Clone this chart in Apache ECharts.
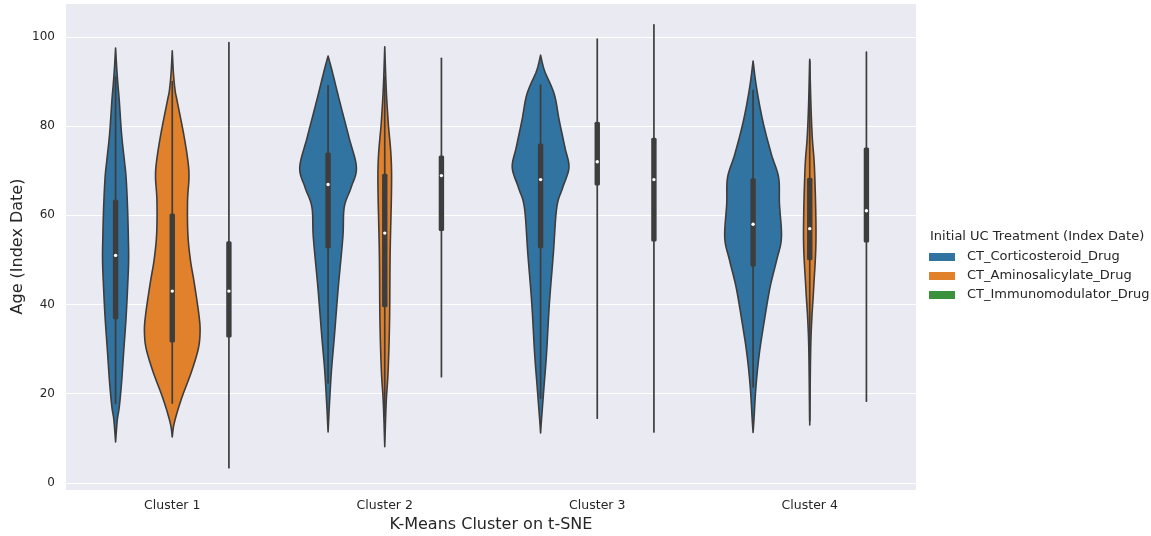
<!DOCTYPE html>
<html>
<head>
<meta charset="utf-8">
<script src="https://cdn.jsdelivr.net/npm/echarts@6/dist/echarts.min.js"></script>
<style>
html,body{margin:0;padding:0;background:#fff;}
#chart{width:1151px;height:536px;}
</style>
</head>
<body>
<div id="chart"></div>
<script>
// ---- data ----
const categories = ['Cluster 1', 'Cluster 2', 'Cluster 3', 'Cluster 4'];
const seriesNames = ['CT_Corticosteroid_Drug', 'CT_Aminosalicylate_Drug', 'CT_Immunomodulator_Drug'];
const legendTitle = 'Initial UC Treatment (Index Date)';

// box stats per cluster: [whiskerLow, Q1, median, Q3, whiskerHigh]
const corticoBox = [
  [17.8, 36.7, 51.0, 63.5, 91.0],
  [22.4, 52.6, 66.9, 74.1, 89.0],
  [19.0, 52.6, 68.0, 76.1, 89.2],
  [21.5, 48.5, 58.0, 68.3, 88.0]
];
const aminoBox = [
  [17.9, 31.5, 43.0, 60.4, 90.0],
  [15.0, 39.4, 56.0, 69.3, 91.0],
  [14.5, 66.7, 72.0, 81.0, 99.5],
  [14.0, 49.9, 57.0, 68.4, 94.5]
];
const immunoBox = [
  [3.4, 32.6, 43.0, 54.2, 98.7],
  [23.8, 56.5, 68.9, 73.4, 95.2],
  [11.4, 54.1, 68.0, 77.4, 102.7],
  [18.3, 53.9, 61.0, 75.2, 96.6]
];

// violin density profiles per cluster: [age, relative width]
const corticoDensity = [
  [[97.5,0],[93,0.04],[89.5,0.08],[85.7,0.13],[78.3,0.21],[72.3,0.31],[68.5,0.37],[62,0.42],[55,0.45],[50,0.46],[44.7,0.43],[37.1,0.37],[29.8,0.29],[22.4,0.21],[17,0.13],[14.1,0.06],[9.2,0]],
  [[95.7,0],[92.4,0.14],[85,0.43],[77.4,0.74],[70.7,1.0],[66.2,0.81],[61.8,0.57],[55,0.52],[43.9,0.36],[32.7,0.22],[25.3,0.12],[17.9,0.05],[11.4,0]],
  [[95.9,0],[92.4,0.14],[87.2,0.48],[81.2,0.66],[75.2,0.86],[70.7,1.0],[66.2,0.78],[61.7,0.57],[51.4,0.45],[40.2,0.31],[29,0.21],[21.5,0.12],[14,0.03],[11.2,0]],
  [[94.6,0],[88.7,0.12],[81.2,0.34],[73.8,0.64],[68.5,0.9],[62.6,0.93],[55,1.0],[49.9,0.83],[43.9,0.6],[36.5,0.4],[29,0.22],[21.5,0.1],[14.1,0.03],[11.3,0]]
];
const aminoDensity = [
  [[96.9,0],[92,0.04],[88,0.1],[85.7,0.17],[78.3,0.4],[72.3,0.55],[68.5,0.59],[63.3,0.54],[55.9,0.55],[50,0.64],[44.7,0.78],[37.2,0.95],[33.5,0.98],[29.8,0.91],[24.6,0.66],[18.6,0.31],[13.4,0.07],[10.3,0]],
  [[97.8,0],[88.6,0.05],[81,0.12],[70,0.24],[51.4,0.19],[36.5,0.17],[25.3,0.12],[17.9,0.05],[8.1,0]],
  [],
  [[95,0],[85,0.04],[77.4,0.09],[70,0.17],[55,0.22],[43.9,0.14],[36.5,0.07],[29,0.03],[13,0]]
];
const immunoDensity = [[], [], [], []];

// ---- styling ----
const colors = ['#3274a1', '#e1812c', '#3a923a'];
const boxes = [corticoBox, aminoBox, immunoBox];
const densities = [corticoDensity, aminoDensity, immunoDensity];
const inkColor = '#3d3d3d';
const textColor = '#262626';
const font = 'DejaVu Sans';

// Catmull-Rom densification of an outline, used only for drawing smooth curves
function smoothProfile(prof, steps) {
  const out = [];
  const n = prof.length;
  for (let i = 0; i < n - 1; i++) {
    const p0 = prof[Math.max(i - 1, 0)], p1 = prof[i], p2 = prof[i + 1], p3 = prof[Math.min(i + 2, n - 1)];
    for (let s = 0; s < steps; s++) {
      const t = s / steps, t2 = t * t, t3 = t2 * t;
      const f = (a, b, c, d) => 0.5 * ((2 * b) + (-a + c) * t + (2 * a - 5 * b + 4 * c - d) * t2 + (-a + 3 * b - 3 * c + d) * t3);
      out.push([f(p0[0], p1[0], p2[0], p3[0]), Math.max(0, f(p0[1], p1[1], p2[1], p3[1]))]);
    }
  }
  out.push(prof[n - 1]);
  return out;
}

function makeRender(hue) {
  return function (params, api) {
    const cat = api.value(0);
    const band = api.size([1, 0])[0];
    const slot = band * 0.8 / 3;
    const cx = api.coord([cat, 0])[0] + (hue - 1) * slot;
    const yOf = v => api.coord([cat, v])[1];
    const children = [];
    const raw = densities[hue][params.dataIndex];
    if (raw && raw.length) {
      const prof = smoothProfile(raw, 10);
      const right = prof.map(p => [cx + p[1] * slot / 2, yOf(p[0])]);
      const left = prof.slice().reverse().map(p => [cx - p[1] * slot / 2, yOf(p[0])]);
      const pts = right.concat(left.slice(1, left.length - 1));
      children.push({
        type: 'polygon',
        shape: { points: pts },
        style: { fill: colors[hue], stroke: inkColor, lineWidth: 1.6, lineJoin: 'round' }
      });
    }
    const lo = yOf(api.value(1)), q1 = yOf(api.value(2)), med = yOf(api.value(3)),
          q3 = yOf(api.value(4)), hi = yOf(api.value(5));
    children.push({
      type: 'line',
      shape: { x1: cx, y1: hi, x2: cx, y2: lo },
      style: { stroke: inkColor, lineWidth: 1.7, lineCap: 'round' }
    });
    children.push({
      type: 'rect',
      shape: { x: cx - 2.7, y: q3, width: 5.4, height: q1 - q3, r: 1.5 },
      style: { fill: inkColor }
    });
    children.push({
      type: 'circle',
      shape: { cx: cx, cy: med, r: 1.7 },
      style: { fill: '#ffffff' }
    });
    return { type: 'group', children: children };
  };
}

const series = seriesNames.map((name, h) => ({
  name: name,
  type: 'custom',
  renderItem: makeRender(h),
  itemStyle: { color: colors[h] },
  encode: { x: 0, y: [1, 2, 3, 4, 5] },
  data: boxes[h].map((b, i) => [i].concat(b)),
  z: 3
}));

const chart = echarts.init(document.getElementById('chart'), null, { renderer: 'canvas' });
chart.setOption({
  animation: false,
  backgroundColor: '#ffffff',
  textStyle: { fontFamily: font },
  grid: {
    left: 66, right: 235, top: 3, bottom: 46,
    outerBoundsMode: 'none',
    containLabel: false,
    show: true, backgroundColor: '#eaeaf2', borderWidth: 0
  },
  xAxis: {
    type: 'category',
    data: categories,
    boundaryGap: true,
    axisLine: { show: false },
    axisTick: { show: false },
    splitLine: { show: false },
    axisLabel: { color: textColor, fontSize: 12.5, fontFamily: font, margin: 9 },
    name: 'K-Means Cluster on t-SNE',
    nameLocation: 'middle',
    nameGap: 24,
    nameTextStyle: { color: textColor, fontSize: 16, fontFamily: font }
  },
  yAxis: {
    type: 'value',
    min: -1.6,
    max: 107.6,
    splitNumber: 5,
    axisLine: { show: false },
    axisTick: { show: false },
    axisLabel: {
      color: textColor, fontSize: 12, fontFamily: font, margin: 11,
      showMinLabel: false, showMaxLabel: false,
      formatter: v => (Math.abs(v - Math.round(v)) < 1e-6 ? String(Math.round(v)) : '')
    },
    splitLine: { show: true, lineStyle: { color: '#ffffff', width: 1.2 } },
    name: 'Age (Index Date)',
    nameLocation: 'middle',
    nameRotate: 90,
    nameGap: 40,
    nameMoveOverlap: false,
    nameTextStyle: { color: textColor, fontSize: 16, fontFamily: font }
  },
  legend: {
    orient: 'vertical',
    left: 924,
    top: 245,
    icon: 'rect',
    itemWidth: 26,
    itemHeight: 8,
    itemGap: 5,
    data: seriesNames,
    textStyle: { color: textColor, fontSize: 13, fontFamily: font, lineHeight: 14, padding: [0, 0, 0, 7] }
  },
  graphic: [{
    type: 'text',
    left: 930,
    top: 230,
    style: { text: legendTitle, fill: textColor, font: '13px "DejaVu Sans"' }
  }],
  series: series
});
</script>
</body>
</html>
